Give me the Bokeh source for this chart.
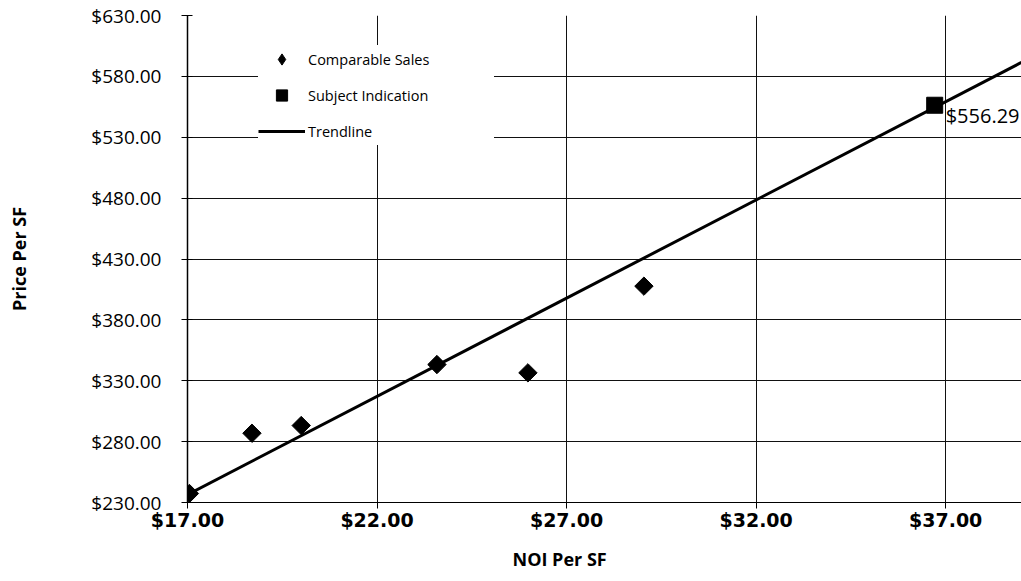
import math
from bokeh.plotting import figure
from bokeh.models import (Range1d, FixedTicker, NumeralTickFormatter,
                          Legend, LegendItem, Title)
from bokeh.core.properties import value
from bokeh.embed import file_html
from bokeh.resources import INLINE

# ---- data ----
comp_noi = [17.05, 18.70, 20.00, 23.58, 25.98, 29.04]
comp_price = [237.4, 286.9, 293.2, 343.3, 336.5, 407.7]
subject_noi = [36.71]
subject_price = [556.29]
trend_noi = [17.0, 39.0]
trend_price = [236.5, 591.5]
x_ticks = [17, 22, 27, 32, 37]
y_ticks = [230, 280, 330, 380, 430, 480, 530, 580, 630]
series_names = ["Comparable Sales", "Subject Indication", "Trendline"]
x_title = "NOI Per SF"
y_title = "Price Per SF"

FONT = "Open Sans"

p = figure(width=1021, height=581,
           x_range=Range1d(17, 39), y_range=Range1d(230, 630),
           output_backend="svg", toolbar_location=None,
           min_border_left=187, min_border_right=0,
           min_border_top=15, min_border_bottom=79)
p.outline_line_color = None
p.background_fill_color = "white"
p.border_fill_color = "white"

# axes
p.xaxis.ticker = FixedTicker(ticks=x_ticks)
p.yaxis.ticker = FixedTicker(ticks=y_ticks)
p.xaxis.formatter = NumeralTickFormatter(format="$0.00")
p.yaxis.formatter = NumeralTickFormatter(format="$0.00")

p.xaxis.axis_line_color = "black"
p.xaxis.axis_line_width = 1
p.xaxis.major_tick_line_color = "black"
p.xaxis.major_tick_out = 6
p.xaxis.major_tick_in = 0
p.xaxis.minor_tick_line_color = None
p.xaxis.major_label_standoff = 0
p.xaxis.major_label_text_font = "DejaVu Sans"
p.xaxis.major_label_text_font_style = "bold"
p.xaxis.major_label_text_font_size = "19px"
p.xaxis.major_label_text_color = "black"

p.yaxis.axis_line_color = "black"
p.yaxis.axis_line_width = 1.5
p.yaxis.major_tick_line_color = "black"
p.yaxis.major_tick_out = 6
p.yaxis.major_tick_in = 5
p.yaxis.minor_tick_line_color = None
p.yaxis.major_label_standoff = 20
p.yaxis.major_label_text_font = FONT
p.yaxis.major_label_text_font_size = "19px"
p.yaxis.major_label_text_color = "black"
p.yaxis.axis_label = y_title
p.yaxis.axis_label_standoff = 57
p.yaxis.axis_label_text_font = FONT
p.yaxis.axis_label_text_font_style = "bold"
p.yaxis.axis_label_text_font_size = "18px"
p.yaxis.axis_label_text_color = "black"

# x-axis title, left-shifted like the reference
p.add_layout(Title(text=x_title, align="left", offset=325, standoff=22,
                   text_font=FONT, text_font_style="bold",
                   text_font_size="18px", text_color="black"), "below")

# grids
p.xgrid.ticker = FixedTicker(ticks=x_ticks)
p.ygrid.ticker = FixedTicker(ticks=y_ticks)
for g in (p.xgrid, p.ygrid):
    g.grid_line_color = "#111111"
    g.grid_line_width = 1

# glyphs
r_trend = p.line(trend_noi, trend_price, line_color="black", line_width=3)
r_comp = p.scatter(comp_noi, comp_price, marker="square", angle=math.pi / 4,
                   size=13, fill_color="black", line_color="black")
r_subj = p.scatter(subject_noi, subject_price, marker="square", size=16,
                   fill_color="black", line_color="black")
p.text(x=subject_noi, y=subject_price,
       text=["${:,.2f}".format(v) for v in subject_price],
       x_offset=11, y_offset=10, text_baseline="middle", text_align="left",
       text_font=value(FONT), text_font_size="20px", text_color="black")

# legend-only diamond (legend markers are never rotated), mapped off-frame
p.extra_x_ranges = {"legend_only": Range1d(-1000, -999)}
r_comp_key = p.scatter(comp_noi, comp_price, marker="diamond",
                       x_range_name="legend_only", size=13,
                       fill_color="black", line_color="black")

legend = Legend(items=[
    LegendItem(label=series_names[0], renderers=[r_comp_key]),
    LegendItem(label=series_names[1], renderers=[r_subj]),
    LegendItem(label=series_names[2], renderers=[r_trend]),
], location=(71, 357), padding=0, margin=0, spacing=8,
    glyph_width=47, glyph_height=28, label_height=28, label_standoff=3,
    label_width=186, background_fill_color="white", background_fill_alpha=1,
    border_line_color=None, label_text_font=FONT,
    label_text_font_size="14.5px", label_text_color="black")
p.add_layout(legend)

open("out.html", "w").write(file_html(p, INLINE))
